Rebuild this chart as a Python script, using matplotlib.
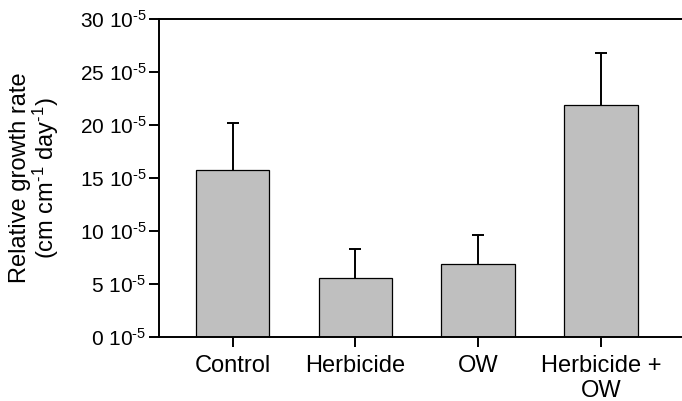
import matplotlib
matplotlib.use('Agg')
import matplotlib.pyplot as plt

# data (units of 1e-5 cm cm-1 day-1)
groups = ['Control', 'Herbicide', 'OW', 'Herbicide +\nOW']
rgr = [15.8, 5.6, 6.85, 21.85]
rgr_err = [4.4, 2.7, 2.75, 4.95]
yticks = [0, 5, 10, 15, 20, 25, 30]

plt.rcParams['font.family'] = ['Liberation Sans', 'DejaVu Sans']
plt.rcParams['mathtext.fontset'] = 'custom'
plt.rcParams['mathtext.rm'] = 'Liberation Sans'
plt.rcParams['mathtext.it'] = 'Liberation Sans:italic'
plt.rcParams['mathtext.bf'] = 'Liberation Sans:bold'

fig = plt.figure(figsize=(6.82, 4.01), dpi=100)
ax = fig.add_axes([159 / 682, 64 / 401, 523 / 682, 318 / 401])

x = range(len(groups))
ax.bar(x, rgr, width=0.6, color='#bfbfbf', edgecolor='black', linewidth=0.9, zorder=2)
eb = ax.errorbar(x, rgr, yerr=[[0] * len(rgr), rgr_err], fmt='none', ecolor='black',
                 elinewidth=1.4, capsize=4.5, capthick=1.4, zorder=3)
# only the upper half of the error bar is shown
eb.lines[1][0].set_visible(False)

ax.set_xlim(-0.6, 3.66)
ax.set_ylim(0, 30)
ax.set_xticks(list(x))
ax.set_xticklabels(groups, fontsize=17)
ax.set_yticks(yticks)
ax.set_yticklabels([f'{t} 10$^{{\\text{{-5}}}}$' for t in yticks], fontsize=15)

for side in ['left', 'bottom', 'top']:
    ax.spines[side].set_linewidth(1.4)
ax.spines['right'].set_visible(False)
ax.tick_params(axis='both', direction='out', length=7, width=1.4)
ax.tick_params(axis='y', pad=2)
ax.tick_params(axis='x', pad=6)

fig.text(35 / 682, 1 - 178 / 401, 'Relative growth rate\n(cm cm$^{\\text{-1}}$ day$^{\\text{-1}}$)',
         rotation=90, ha='center', va='center', fontsize=17, linespacing=0.95)

fig.savefig('out.png', dpi=100)
